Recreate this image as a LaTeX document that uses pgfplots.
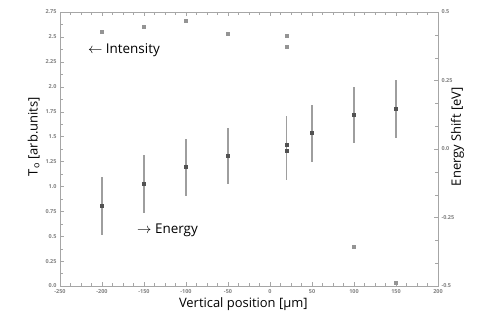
\documentclass[border=0pt]{standalone}
\usepackage{pgfplots}
\pgfplotsset{compat=1.18}
\usepackage{fontspec}
\setmainfont{Open Sans}
\definecolor{axgray}{gray}{0.65}
\definecolor{ptgray}{gray}{0.58}
\definecolor{engray}{gray}{0.32}
\definecolor{ebgray}{gray}{0.62}
\begin{document}
\begin{tikzpicture}[x=1bp,y=1bp]
\useasboundingbox (0,0) rectangle (492,327);
\begin{axis}[
  at={(60bp,41bp)}, anchor=south west,
  scale only axis, width=378bp, height=274bp,
  xmin=-250, xmax=200, ymin=0, ymax=2.75,
  xtick={-250,-200,...,200},
  ytick={0,0.25,...,2.75},
  yticklabels={0.0,0.25,0.5,0.75,1.0,1.25,1.5,1.75,2.0,2.25,2.5,2.75},
  minor x tick num=3, minor y tick num=1,
  ytick pos=left,
  axis line style={axgray, line width=0.8pt},
  tick style={axgray},
  tick label style={font=\fontsize{5.5}{6}\selectfont\bfseries, text=gray},
  /pgf/number format/assume math mode=true,
  xlabel={Vertical position [µm]},
  ylabel={T$_\mathrm{o}$ [arb.units]},
  label style={font=\fontsize{13}{15}\selectfont},
  xlabel style={at={(ticklabel cs:0.485)}, yshift=3bp},
  ylabel style={at={(ticklabel cs:0.545)}, yshift=-1bp},
  clip=false,
]
\addplot[only marks, mark=square*, mark size=1.5pt, color=ptgray] coordinates {
  (-200,2.55) (-150,2.60) (-100,2.66) (-50,2.53) (20,2.51) (20,2.40) (100,0.39) (150,0.03)
};
\node[anchor=west, font=\fontsize{13.5}{15}\selectfont] at (rel axis cs:0.065,0.86) {$\leftarrow$ Intensity};
\node[anchor=west, font=\fontsize{13.5}{15}\selectfont] at (rel axis cs:0.195,0.204) {$\rightarrow$ Energy};
\end{axis}
\begin{axis}[
  at={(60bp,41bp)}, anchor=south west,
  scale only axis, width=378bp, height=274bp,
  xmin=-250, xmax=200, ymin=-0.5, ymax=0.5,
  axis x line=none,
  axis y line*=right,
  ytick={-0.5,-0.25,0,0.25,0.5},
  yticklabels={-0.5,-0.25,0.0,0.25,0.5},
  minor y tick num=2,
  axis line style={axgray, line width=0.8pt},
  tick style={axgray},
  tick label style={font=\fontsize{5.5}{6}\selectfont\bfseries, text=gray},
  /pgf/number format/assume math mode=true,
  ylabel={Energy Shift [eV]},
  label style={font=\fontsize{13}{15}\selectfont},
  ylabel style={at={(ticklabel cs:0.545)}, yshift=10bp},
]
\addplot[draw=none, mark=none,
  error bars/.cd, y dir=both, y explicit,
  error bar style={color=ebgray, line width=1.1pt}, error mark=none] coordinates {
  (-200,-0.208) +- (0,0.106)
  (-150,-0.128) +- (0,0.106)
  (-100,-0.066) +- (0,0.104)
  (-50,-0.026) +- (0,0.102)
  (20,0.015) +- (0,0.105)
  (20,-0.007) +- (0,0.105)
  (50,0.058) +- (0,0.104)
  (100,0.124) +- (0,0.103)
  (150,0.146) +- (0,0.106)
};
\addplot[only marks, mark=square*, mark size=1.45pt, color=engray] coordinates {
  (-200,-0.208) (-150,-0.128) (-100,-0.066) (-50,-0.026) (20,0.015) (20,-0.007)
  (50,0.058) (100,0.124) (150,0.146)
};
\end{axis}
\end{tikzpicture}
\end{document}
